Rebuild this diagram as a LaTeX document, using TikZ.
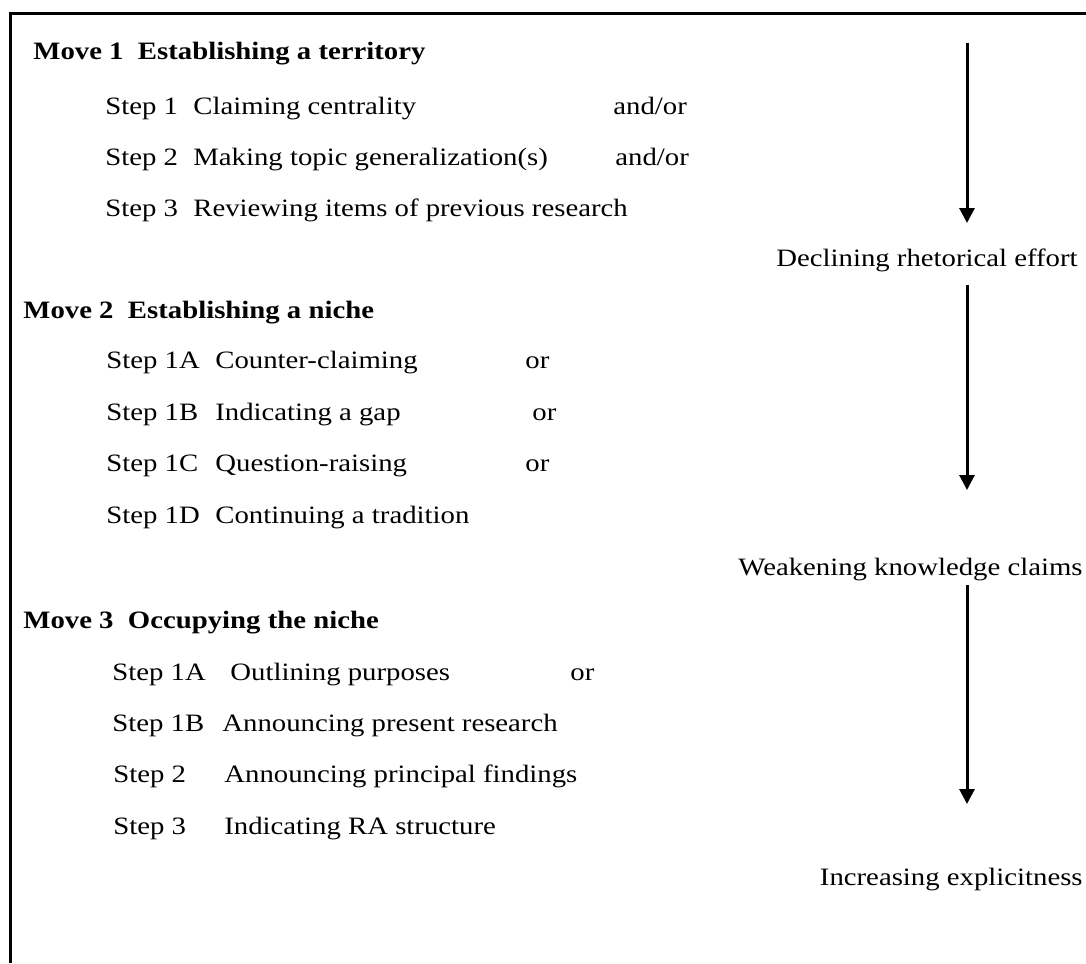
\documentclass[tikz,border=0pt]{standalone}
\usepackage{fontspec}
\setmainfont{Liberation Serif}[FakeStretch=1.15]
\usetikzlibrary{arrows.meta}
\begin{document}
\begin{tikzpicture}[x=0.5pt,y=-0.5pt,
  txt/.style={anchor=base west, inner sep=0pt, font=\fontsize{12.5}{14}\selectfont},
  movetxt/.style={anchor=base west, inner sep=0pt, font=\fontsize{12.5}{14}\selectfont\bfseries},
  lab/.style={anchor=base east, inner sep=0pt, font=\fontsize{12.5}{14}\selectfont},
  flow/.style={line width=1.5pt, -{Triangle[width=7.5pt,length=7.5pt]}},
  frameline/.style={line width=1.5pt, line join=miter}]
\useasboundingbox (0,0) rectangle (1086,963);
% frame
\coordinate (fbl) at (10.7,963);
\coordinate (ftl) at (10.7,14);
\coordinate (ftr) at (1086,14);
\draw[frameline] (fbl) -- (ftl) -- (ftr);
% Move 1
\node[movetxt] (m1) at (33,60) {Move 1\ \ Establishing a territory};
\node[txt] (m1s1) at (105,115) {Step 1};
\node[txt] (m1d1) at (193,115) {Claiming centrality};
\node[txt] (m1c1) at (613,115) {and/or};
\node[txt] (m1s2) at (105,165) {Step 2};
\node[txt] (m1d2) at (193,165) {Making topic generalization(s)};
\node[txt] (m1c2) at (615,165) {and/or};
\node[txt] (m1s3) at (105,216) {Step 3};
\node[txt] (m1d3) at (193,216) {Reviewing items of previous research};
\node[lab] (l1) at (1078,266) {Declining rhetorical effort};
% Move 2
\node[movetxt] (m2) at (23,318) {Move 2\ \ Establishing a niche};
\node[txt] (m2s1) at (106,368) {Step 1A};
\node[txt] (m2d1) at (215,368) {Counter-claiming};
\node[txt] (m2c1) at (525,368) {or};
\node[txt] (m2s2) at (106,420) {Step 1B};
\node[txt] (m2d2) at (215,420) {Indicating a gap};
\node[txt] (m2c2) at (532,420) {or};
\node[txt] (m2s3) at (106,471) {Step 1C};
\node[txt] (m2d3) at (215,471) {Question-raising};
\node[txt] (m2c3) at (525,471) {or};
\node[txt] (m2s4) at (106,523) {Step 1D};
\node[txt] (m2d4) at (215,523) {Continuing a tradition};
\node[lab] (l2) at (1083,575) {Weakening knowledge claims};
% Move 3
\node[movetxt] (m3) at (23,628) {Move 3\ \ Occupying the niche};
\node[txt] (m3s1) at (112,680) {Step 1A};
\node[txt] (m3d1) at (230,680) {Outlining purposes};
\node[txt] (m3c1) at (570,680) {or};
\node[txt] (m3s2) at (112,731) {Step 1B};
\node[txt] (m3d2) at (222,731) {Announcing present research};
\node[txt] (m3s3) at (113,782) {Step 2};
\node[txt] (m3d3) at (224,782) {Announcing principal findings};
\node[txt] (m3s4) at (113,834) {Step 3};
\node[txt] (m3d4) at (224,834) {Indicating RA structure};
\node[lab] (l3) at (1083,885) {Increasing explicitness};
% arrows
\coordinate (a1s) at (967,43);
\coordinate (a1e) at (967,223);
\coordinate (a2s) at (967,285);
\coordinate (a2e) at (967,490);
\coordinate (a3s) at (967,585);
\coordinate (a3e) at (967,804);
\draw[flow] (a1s) -- (a1e);
\draw[flow] (a2s) -- (a2e);
\draw[flow] (a3s) -- (a3e);
\end{tikzpicture}
\end{document}
